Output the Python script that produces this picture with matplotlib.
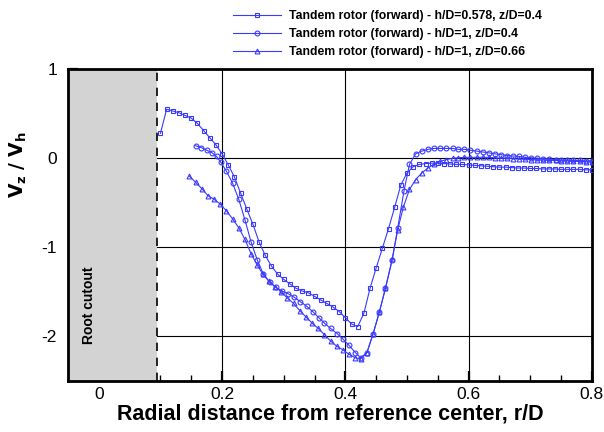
import matplotlib
matplotlib.use("Agg")
import matplotlib.pyplot as plt
from matplotlib.ticker import MultipleLocator

plt.rcParams['font.family'] = ['Liberation Sans', 'DejaVu Sans']
plt.rcParams['axes.unicode_minus'] = False

# h/D=0.578, z/D=0.4 (squares)
x_sq = [0.10, 0.11, 0.12, 0.13, 0.14, 0.15, 0.16, 0.17, 0.18, 0.19,
        0.20, 0.21, 0.22, 0.23, 0.24, 0.25, 0.26, 0.27, 0.28, 0.29,
        0.30, 0.31, 0.32, 0.33, 0.34, 0.35, 0.36, 0.37, 0.38, 0.39,
        0.40, 0.41, 0.42, 0.43, 0.44, 0.45, 0.46, 0.47, 0.48, 0.49,
        0.50, 0.51, 0.52, 0.53, 0.54, 0.55, 0.56, 0.57, 0.58, 0.59,
        0.60, 0.61, 0.62, 0.63, 0.64, 0.65, 0.66, 0.67, 0.68, 0.69,
        0.70, 0.71, 0.72, 0.73, 0.74, 0.75, 0.76, 0.77, 0.78, 0.79, 0.80]
y_sq = [0.28, 0.55, 0.53, 0.51, 0.48, 0.45, 0.39, 0.31, 0.23, 0.15,
        0.05, -0.075, -0.21, -0.39, -0.57, -0.74, -0.94, -1.09, -1.21, -1.30,
        -1.36, -1.41, -1.46, -1.49, -1.51, -1.55, -1.59, -1.63, -1.67, -1.72,
        -1.79, -1.86, -1.89, -1.74, -1.46, -1.23, -1.01, -0.79, -0.55, -0.30,
        -0.165, -0.095, -0.07, -0.06, -0.055, -0.055, -0.06, -0.065, -0.07, -0.07,
        -0.075, -0.08, -0.085, -0.09, -0.095, -0.10, -0.10, -0.105, -0.11, -0.11,
        -0.115, -0.115, -0.12, -0.12, -0.12, -0.125, -0.125, -0.125, -0.125, -0.13, -0.13]

# h/D=1, z/D=0.4 (circles)
x_ci = [0.157, 0.166, 0.175, 0.184, 0.191, 0.198, 0.207, 0.217, 0.227, 0.237,
        0.247, 0.257, 0.267, 0.277, 0.287, 0.297, 0.307, 0.317, 0.327, 0.337,
        0.347, 0.357, 0.366, 0.376, 0.387, 0.396, 0.406, 0.416, 0.425, 0.435,
        0.445, 0.455, 0.465, 0.476, 0.485, 0.495, 0.504, 0.514, 0.524, 0.534,
        0.544, 0.554, 0.564, 0.574, 0.583, 0.593, 0.603, 0.613, 0.623, 0.633,
        0.642, 0.652, 0.662, 0.672, 0.682, 0.692, 0.701, 0.711, 0.721, 0.731,
        0.741, 0.750, 0.760, 0.770, 0.780, 0.790, 0.800]
y_ci = [0.14, 0.12, 0.09, 0.06, 0.02, -0.045, -0.146, -0.28, -0.46, -0.69,
        -0.94, -1.14, -1.30, -1.39, -1.45, -1.49, -1.52, -1.56, -1.61, -1.66,
        -1.72, -1.79, -1.85, -1.91, -1.97, -2.03, -2.10, -2.18, -2.24, -2.18,
        -1.97, -1.73, -1.46, -1.14, -0.78, -0.37, -0.07, 0.05, 0.08, 0.10,
        0.11, 0.11, 0.11, 0.11, 0.10, 0.10, 0.09, 0.08, 0.07, 0.06,
        0.05, 0.04, 0.03, 0.025, 0.02, 0.01, 0.005, 0.0, -0.005, -0.01,
        -0.015, -0.02, -0.02, -0.025, -0.025, -0.03, -0.03]

# h/D=1, z/D=0.66 (triangles)
x_tr = [0.147, 0.157, 0.167, 0.177, 0.187, 0.196, 0.207, 0.217, 0.227, 0.237,
        0.247, 0.257, 0.266, 0.276, 0.286, 0.296, 0.306, 0.316, 0.326, 0.336,
        0.346, 0.356, 0.366, 0.376, 0.386, 0.396, 0.406, 0.416, 0.425, 0.435,
        0.445, 0.455, 0.465, 0.476, 0.485, 0.494, 0.504, 0.514, 0.524, 0.534,
        0.544, 0.554, 0.564, 0.574, 0.583, 0.593, 0.603, 0.613, 0.623, 0.633,
        0.642, 0.652, 0.662, 0.672, 0.682, 0.692, 0.701, 0.711, 0.721, 0.731,
        0.741, 0.750, 0.760, 0.770, 0.780, 0.790, 0.800]
y_tr = [-0.20, -0.27, -0.34, -0.42, -0.46, -0.51, -0.59, -0.68, -0.78, -0.91,
        -1.07, -1.20, -1.30, -1.38, -1.44, -1.50, -1.57, -1.63, -1.71, -1.78,
        -1.85, -1.91, -1.98, -2.05, -2.11, -2.15, -2.20, -2.24, -2.25, -2.18,
        -1.97, -1.73, -1.46, -1.13, -0.80, -0.55, -0.35, -0.24, -0.165, -0.11,
        -0.065, -0.035, -0.015, 0.0, 0.005, 0.01, 0.01, 0.01, 0.01, 0.01,
        0.005, 0.0, 0.0, -0.005, -0.01, -0.01, -0.015, -0.02, -0.02, -0.025,
        -0.025, -0.03, -0.03, -0.035, -0.035, -0.04, -0.04]

labels = ["Tandem rotor (forward) - h/D=0.578, z/D=0.4",
          "Tandem rotor (forward) - h/D=1, z/D=0.4",
          "Tandem rotor (forward) - h/D=1, z/D=0.66"]

root_cut = 0.094
blue = '#3a3aff'

fig = plt.figure(figsize=(6.04, 4.32), dpi=100)
ax = fig.add_axes([0.1126, 0.118, 0.8674, 0.722])

ax.grid(True, which='major', color='black', linewidth=0.8)
ax.set_axisbelow(True)
ax.axvspan(-0.05, root_cut, color='#d3d3d3', zorder=1, linewidth=0)
ax.axvline(root_cut, color='black', linestyle=(0, (5, 4)), linewidth=1.2, zorder=2)

mk = dict(color=blue, linewidth=0.8, markersize=3.5, markerfacecolor='none',
          markeredgewidth=0.8, zorder=3)
ax.plot(x_sq, y_sq, marker='s', label=labels[0], **mk)
ax.plot(x_ci, y_ci, marker='o', label=labels[1], **mk)
ax.plot(x_tr, y_tr, marker='^', label=labels[2], **mk)

ax.text(-0.016, -1.65, "Root cutout", rotation=90, ha='center', va='center',
        fontsize=10, fontweight='bold', zorder=4)

ax.set_xlim(-0.05, 0.8)
ax.set_ylim(-2.5, 1)
ax.set_xticks([0, 0.2, 0.4, 0.6, 0.8])
ax.set_xticklabels(['0', '0.2', '0.4', '0.6', '0.8'])
ax.set_yticks([-2, -1, 0, 1])
ax.set_yticklabels(['-2', '-1', '0', '1'])
ax.xaxis.set_minor_locator(MultipleLocator(0.05))
ax.yaxis.set_minor_locator(MultipleLocator(0.2))
ax.tick_params(which='both', direction='in', top=False, right=False, labelsize=12.5)
ax.tick_params(which='major', length=7, width=1.6)
ax.tick_params(axis='x', which='major', pad=4.5)
ax.tick_params(axis='y', which='major', pad=8)
ax.tick_params(which='minor', length=4, width=1)
for s in ax.spines.values():
    s.set_linewidth(2)

ax.set_xlabel("Radial distance from reference center, r/D", fontsize=15.5,
              fontweight='bold', labelpad=1)
ax.set_ylabel(r"$\mathbf{V_z\ /\ V_h}$", fontsize=13.5)
ax.yaxis.set_label_coords(-0.074, 0.695)

leg = fig.legend(loc='upper left', bbox_to_anchor=(228 / 604, 1 - 5 / 432),
                 frameon=False, prop={'weight': 'bold', 'size': 8.8},
                 handlelength=3.9, labelspacing=0.5, borderaxespad=0,
                 handletextpad=0.7)

fig.savefig("out.png", dpi=100)
